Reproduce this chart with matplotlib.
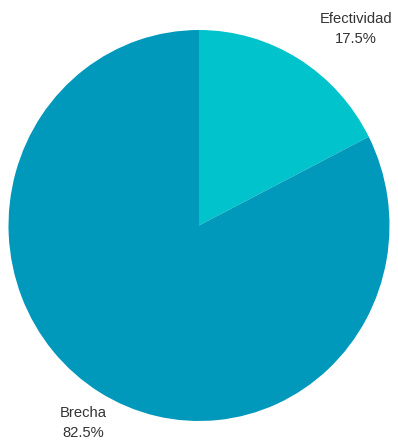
import matplotlib
matplotlib.use("Agg")
import matplotlib.pyplot as plt

categories = ["Efectividad", "Brecha"]
values = [17.5, 82.5]
colors = ["#00c3cb", "#0099bb"]

W, H = 398, 441
fig = plt.figure(figsize=(W / 100, H / 100), dpi=100)

# pie axes box in pixels: left, top, right, bottom
left, top, right, bottom = 8.5, 30, 389.5, 421
ax = fig.add_axes([left / W, 1 - bottom / H, (right - left) / W, (bottom - top) / H])
ax.pie(values, colors=colors, startangle=90, counterclock=False,
       radius=1, frame=True, wedgeprops=dict(linewidth=0))
ax.set_xlim(-1, 1)
ax.set_ylim(-1, 1)
ax.set_aspect("auto")
ax.axis("off")

label_pos = {"Efectividad": (356, 29), "Brecha": (83, 423)}
for name, val in zip(categories, values):
    x, y = label_pos[name]
    fig.text(x / W, 1 - y / H, f"{name}\n{val:.1f}%", ha="center", va="center",
             fontsize=10.6, color="#333333", family="Liberation Sans",
             linespacing=1.6)

fig.savefig("out.png", dpi=100)
